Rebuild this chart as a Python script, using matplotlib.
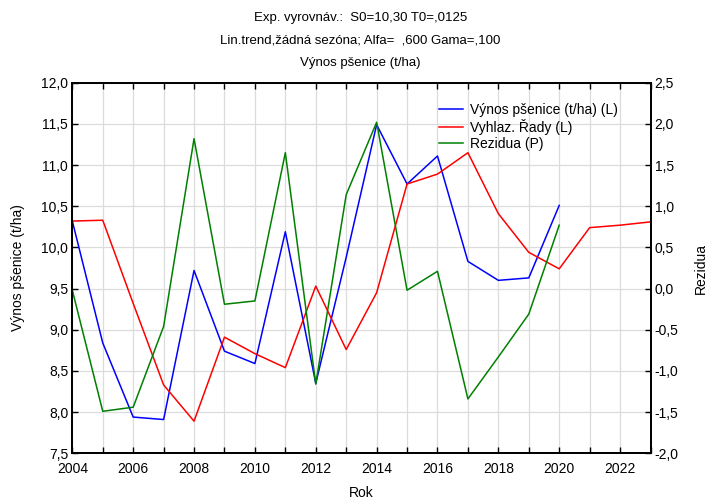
import matplotlib
matplotlib.use("Agg")
import matplotlib.pyplot as plt
from matplotlib.ticker import FuncFormatter, MultipleLocator

plt.rcParams['font.family'] = ['Liberation Sans', 'DejaVu Sans']

years = list(range(2004, 2024))
years_obs = list(range(2004, 2021))
vynos = [10.32, 8.84, 7.94, 7.91, 9.72, 8.74, 8.59, 10.19, 8.35, 9.88,
         11.49, 10.77, 11.11, 9.83, 9.60, 9.63, 10.51]
vyhlaz = [10.32, 10.33, 9.32, 8.33, 7.89, 8.91, 8.71, 8.54, 9.53, 8.76,
          9.45, 10.77, 10.89, 11.15, 10.41, 9.94, 9.74, 10.24, 10.27, 10.31]
rezidua = [-0.02, -1.49, -1.44, -0.46, 1.82, -0.19, -0.15, 1.65, -1.16, 1.14,
           2.02, -0.02, 0.21, -1.34, -0.83, -0.31, 0.77]

title_lines = ["Exp. vyrovnáv.:  S0=10,30 T0=,0125",
               "Lin.trend,žádná sezóna; Alfa=  ,600 Gama=,100",
               "Výnos pšenice (t/ha)"]
labels = ["Výnos pšenice (t/ha) (L)", "Vyhlaz. Řady (L)", "Rezidua (P)"]

fig = plt.figure(figsize=(7.09, 5.0), dpi=100)
ax = fig.add_axes([0.102, 0.0934, 0.8155, 0.7412])
ax2 = ax.twinx()

l1, = ax.plot(years_obs, vynos, color='#0000ff', lw=1.1)
l2, = ax.plot(years, vyhlaz, color='#ff0000', lw=1.1)
l3, = ax2.plot(years_obs, rezidua, color='#008000', lw=1.1)

ax.set_xlim(2004, 2023)
ax.set_ylim(7.5, 12.0)
ax2.set_ylim(-2.0, 2.5)

ax.xaxis.set_major_locator(MultipleLocator(2))
ax.xaxis.set_minor_locator(MultipleLocator(1))
ax.yaxis.set_major_locator(MultipleLocator(0.5))
ax2.yaxis.set_major_locator(MultipleLocator(0.5))

fmt = FuncFormatter(lambda v, p: f"{v:.1f}".replace('.', ','))
ax.yaxis.set_major_formatter(fmt)
ax2.yaxis.set_major_formatter(fmt)
ax.xaxis.set_major_formatter(FuncFormatter(lambda v, p: f"{int(round(v))}"))

ax.grid(True, which='both', axis='x', color='#dcdcdc', lw=0.9)
ax.grid(True, which='major', axis='y', color='#dcdcdc', lw=0.9)
ax.set_axisbelow(True)

for a in (ax, ax2):
    for s in a.spines.values():
        s.set_linewidth(1.3)
        s.set_color('black')
ax.tick_params(axis='both', which='both', direction='in', labelsize=10,
               top=True, length=4, width=1, pad=3)
ax.tick_params(axis='x', which='major', pad=6)
ax2.tick_params(axis='y', direction='in', labelsize=10, length=4, width=1, pad=3)

fig.text(361 / 709, 1 - 493 / 500, "Rok", ha='center', va='center', fontsize=10)
fig.text(18 / 709, 1 - 268 / 500, "Výnos pšenice (t/ha)", ha='center', va='center',
         rotation=90, fontsize=10)
fig.text(701 / 709, 1 - 268 / 500, "Rezidua", ha='center', va='center',
         rotation=90, fontsize=10)

for i, t in enumerate(title_lines):
    fig.text(0.508, 1 - (18 + i * 22.5) / 500, t, ha='center', va='center', fontsize=9.5)

ax.legend([l1, l2, l3], labels, loc='upper left', bbox_to_anchor=(0.625, 0.96),
          frameon=False, fontsize=10, handlelength=1.7, handletextpad=0.5,
          labelspacing=0.15, borderaxespad=0)

fig.savefig("out.png", dpi=100)
